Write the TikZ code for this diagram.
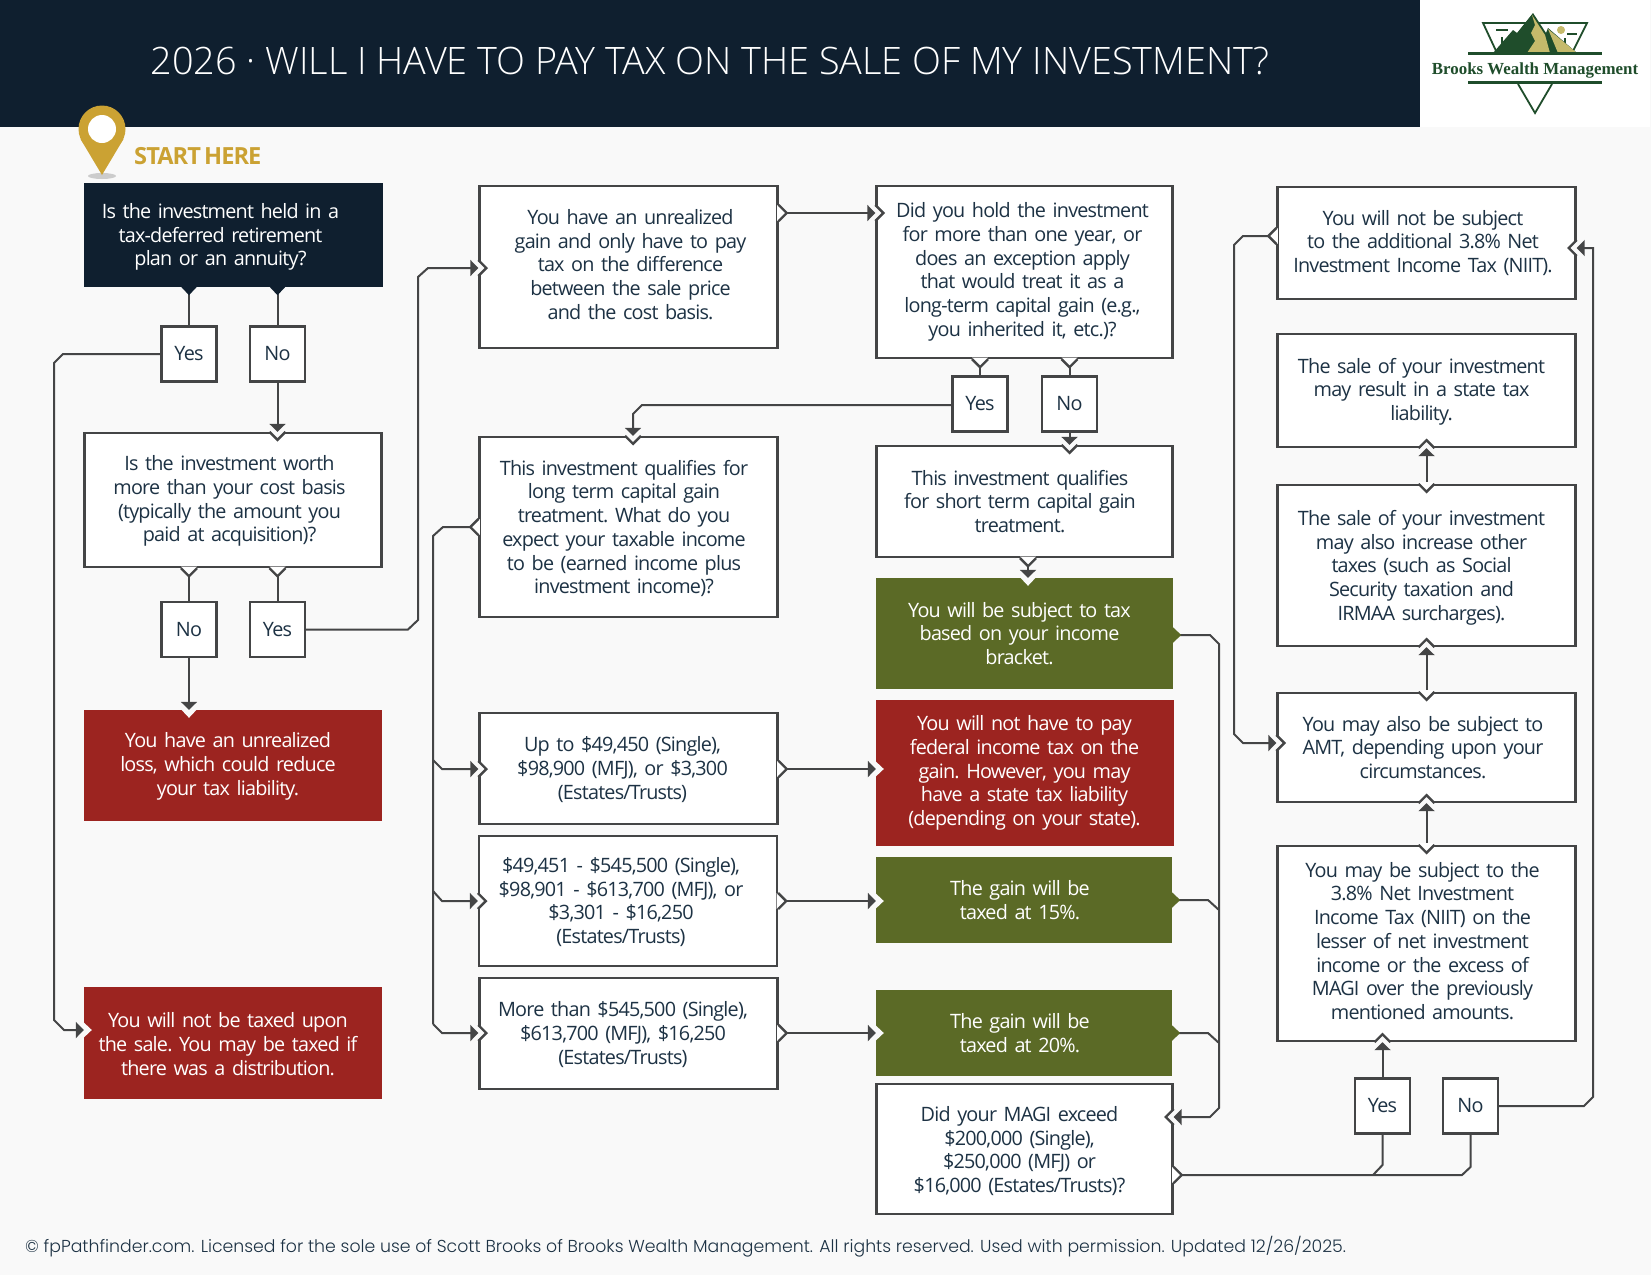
\documentclass[tikz,border=0pt]{standalone}
\usepackage{fontspec}
\setmainfont{Open Sans}[LetterSpace=-4, WordSpace=0.62]
\newfontfamily\titlefont{Open Sans Light}
\newfontfamily\footfont{Poppins Light}
\newfontfamily\logofont{Liberation Serif}
\usetikzlibrary{arrows.meta}

\definecolor{pagebg}{HTML}{F9F9F9}
\definecolor{navy}{HTML}{0F1F2F}
\definecolor{ink}{HTML}{1D3244}
\definecolor{wire}{HTML}{444546}
\definecolor{lossred}{HTML}{9C2420}
\definecolor{taxgreen}{HTML}{5B6A26}
\definecolor{pingold}{HTML}{CBA233}
\definecolor{logogreen}{HTML}{1F4D2B}
\definecolor{logotan}{HTML}{C5BA6B}

\newcommand{\bodysize}{\fontsize{19.8}{23.7}\selectfont\frenchspacing}

\tikzset{
    nudge/.style={execute at begin node={\centering\rightskip=#1 plus 1fil}},
    lift/.style={execute at end node={\par\vspace*{#1}}},
    flowbox/.style={rectangle, inner sep=0pt, text width=290pt, font=\bodysize, nudge=9pt},
    whitebox/.style={flowbox, draw=wire, line width=2.4pt, fill=white, text=ink},
    navybox/.style={flowbox, fill=navy, text=white},
    redbox/.style={flowbox, fill=lossred, text=white},
    greenbox/.style={flowbox, fill=taxgreen, text=white},
    tagbox/.style={rectangle, inner sep=0pt, draw=wire, line width=2.4pt, fill=white, text=ink, font=\bodysize, minimum width=55pt, minimum height=55pt},
    link/.style={draw=wire, line width=2pt},
    arrowlink/.style={link, -{Triangle[length=8pt,width=16pt]}},
    boxline/.style={draw=wire, line width=2.4pt},
}

% chevron in a box edge, with and without outline
\newcommand{\chevline}[3]{%
    \begin{scope}[shift={#1}, rotate=#2]
        \fill[#3] (-1.6,-8) -- (8,0) -- (-1.6,8) -- cycle;
        \draw[boxline] (0,-8) -- (8,0) -- (0,8);
    \end{scope}}
\newcommand{\chevfill}[3]{%
    \begin{scope}[shift={#1}, rotate=#2]
        \fill[#3] (-0.5,-8) -- (8,0) -- (-0.5,8) -- cycle;
    \end{scope}}

\begin{document}
\begin{tikzpicture}[x=1pt, y=-1pt]
    \useasboundingbox (0,0) rectangle (1651,1275);
    \fill[pagebg] (0,0) rectangle (1651,1275);
    \fill[navy] (0,0) rectangle (1420,127);
    \fill[white] (1420,0) rectangle (1650,127);
    \node[anchor=west, text=white, font=\titlefont\fontsize{37.8}{44}\selectfont] (title) at (147,61) {2026 · WILL I HAVE TO PAY TAX ON THE SALE OF MY INVESTMENT?};

    % logo
    \draw[logogreen, line width=1.8pt] (1497,53) -- (1483,23) -- (1587,23) -- (1572,53);
    \fill[logogreen] (1496,29) rectangle (1508,31);
    \fill[logogreen] (1567,33) rectangle (1577,35);
    \fill[logogreen] (1501,37) rectangle (1503,47);
    \fill[logogreen] (1564,38) rectangle (1566,47);
    \fill[logogreen] (1493,53) -- (1513,30) -- (1517,33) -- (1533,13) -- (1546,33) -- (1548,28) -- (1577,53) -- cycle;
    \fill[logotan] (1532,15) -- (1545,35) -- (1550,53) -- (1527,53) -- (1535,41) -- (1531,33) -- (1535,25) -- cycle;
    \fill[logotan] (1548,29) -- (1577,53) -- (1558,53) -- (1553,41) -- cycle;
    \fill[logotan] (1561,30) circle (4);
    \fill[logogreen] (1468,52) rectangle (1602,55);
    \fill[logogreen] (1468,81) rectangle (1602,84);
    \draw[logogreen, line width=1.8pt] (1518,84) -- (1535,113) -- (1552,84);
    \node[text=logogreen, font=\logofont\bfseries\fontsize{16.9}{17}\selectfont] (brand) at (1535,70) {Brooks Wealth Management};

    % start pin
    \fill[black!20] (102,176) ellipse (14 and 3);
    \fill[pingold] (102,129) circle (23.5);
    \fill[pingold] (102,175) -- (80.5,139) -- (123.5,139) -- cycle;
    \fill[white] (102,129) circle (14);
    \node[anchor=west, text=pingold, font=\bfseries\fontsize{23.6}{24}\selectfont, inner sep=0pt] (start) at (134,156.5) {START HERE};

    % first column
    \node[navybox, minimum width=299pt, minimum height=104pt, nudge=26pt, lift=-4pt] (qone) at (233.5,235) {Is the investment held in a\\tax-deferred retirement\\plan or an annuity?};
    \node[tagbox] (yesa) at (189,354) {Yes};
    \node[tagbox] (noa) at (277.5,354) {No};
    \node[whitebox, minimum width=297pt, minimum height=134pt, nudge=7pt, lift=-2pt] (qtwo) at (233,500) {Is the investment worth\\more than your cost basis\\(typically the amount you\\paid at acquisition)?};
    \node[tagbox] (nob) at (189,629.5) {No};
    \node[tagbox] (yesb) at (277.5,629.5) {Yes};
    \node[redbox, minimum width=298pt, minimum height=111pt, nudge=10pt, lift=-2pt] (loss) at (233,765.5) {You have an unrealized\\loss, which could reduce\\your tax liability.};
    \node[redbox, minimum width=298pt, minimum height=112pt, nudge=10pt, lift=-2pt] (notaxed) at (233,1043) {You will not be taxed upon\\the sale. You may be taxed if\\there was a distribution.};

    % second column
    \node[whitebox, minimum width=298pt, minimum height=162pt, nudge=-4pt, lift=5pt] (gain) at (628.5,267) {You have an unrealized\\gain and only have to pay\\tax on the difference\\between the sale price\\and the cost basis.};
    \node[whitebox, minimum width=298pt, minimum height=180pt, lift=-3pt] (longterm) at (628.5,527) {This investment qualifies for\\long term capital gain\\treatment. What do you\\expect your taxable income\\to be (earned income plus\\investment income)?};
    \node[whitebox, minimum width=298pt, minimum height=111pt, nudge=12pt, lift=-2pt] (lowband) at (628.5,768.5) {Up to \$49,450 (Single),\\\$98,900 (MFJ), or \$3,300\\(Estates/Trusts)};
    \node[whitebox, minimum width=298pt, minimum height=130pt, nudge=14pt, lift=-2pt] (midband) at (628,901) {\$49,451 - \$545,500 (Single),\\\$98,901 - \$613,700 (MFJ), or\\\$3,301 - \$16,250\\(Estates/Trusts)};
    \node[whitebox, minimum width=298pt, minimum height=111pt, nudge=11pt, lift=-2pt] (topband) at (628.5,1033.5) {More than \$545,500 (Single),\\\$613,700 (MFJ), \$16,250\\(Estates/Trusts)};

    % third column
    \node[whitebox, minimum width=296pt, minimum height=172pt, nudge=4pt] (hold) at (1024.5,272) {Did you hold the investment\\for more than one year, or\\does an exception apply\\that would treat it as a\\long-term capital gain (e.g.,\\you inherited it, etc.)?};
    \node[tagbox] (yesc) at (980,404) {Yes};
    \node[tagbox] (noc) at (1069.5,404) {No};
    \node[whitebox, minimum width=296pt, minimum height=111pt] (shortterm) at (1024.5,501.5) {This investment qualifies\\for short term capital gain\\treatment.};
    \node[greenbox, minimum width=297pt, minimum height=111pt, nudge=10pt] (bracket) at (1024.5,633.5) {You will be subject to tax\\based on your income\\bracket.};
    \node[redbox, minimum width=298pt, minimum height=146pt, nudge=1pt] (nofed) at (1025,773) {You will not have to pay\\federal income tax on the\\gain. However, you may\\have a state tax liability\\(depending on your state).};
    \node[greenbox, minimum width=296pt, minimum height=86pt, nudge=8pt] (fifteen) at (1024,900) {The gain will be\\taxed at 15\%.};
    \node[greenbox, minimum width=296pt, minimum height=86pt, nudge=8pt] (twenty) at (1024,1033) {The gain will be\\taxed at 20\%.};
    \node[whitebox, minimum width=296pt, minimum height=130pt, nudge=10pt, lift=-4pt] (magi) at (1024.5,1149) {Did your MAGI exceed\\\$200,000 (Single),\\\$250,000 (MFJ) or\\\$16,000 (Estates/Trusts)?};

    % fourth column
    \node[whitebox, minimum width=298pt, minimum height=112pt, nudge=7pt] (noniit) at (1426.5,243) {You will not be subject\\to the additional 3.8\% Net\\Investment Income Tax (NIIT).};
    \node[whitebox, minimum width=298pt, minimum height=113pt, nudge=10pt, lift=-2pt] (statetax) at (1426.5,390.5) {The sale of your investment\\may result in a state tax\\liability.};
    \node[whitebox, minimum width=298pt, minimum height=161pt, nudge=10pt, lift=-4pt] (othertax) at (1426.5,565.5) {The sale of your investment\\may also increase other\\taxes (such as Social\\Security taxation and\\IRMAA surcharges).};
    \node[whitebox, minimum width=298pt, minimum height=109pt, nudge=7pt] (amt) at (1426.5,747.5) {You may also be subject to\\AMT, depending upon your\\circumstances.};
    \node[whitebox, minimum width=298pt, minimum height=195pt, nudge=8pt, lift=5pt] (niit) at (1426.5,943.5) {You may be subject to the\\3.8\% Net Investment\\Income Tax (NIIT) on the\\lesser of net investment\\income or the excess of\\MAGI over the previously\\mentioned amounts.};
    \node[tagbox] (yesd) at (1382.5,1106) {Yes};
    \node[tagbox] (nod) at (1470.5,1106) {No};

    % cuts where arrows come in
    \chevline{(qtwo.north -| noa)}{-90}{pagebg}
    \chevfill{(loss.north -| nob)}{-90}{pagebg}
    \chevfill{(notaxed.west |- 0,1030)}{0}{pagebg}
    \chevline{(gain.west |- 0,268)}{0}{pagebg}
    \chevline{(hold.west |- 0,213)}{0}{pagebg}
    \chevline{(longterm.north -| 633,0)}{-90}{pagebg}
    \chevline{(shortterm.north -| noc)}{-90}{pagebg}
    \chevfill{(bracket.north -| 1028,0)}{-90}{pagebg}
    \chevline{(lowband.west |- 0,769)}{0}{pagebg}
    \chevline{(midband.west |- 0,901)}{0}{pagebg}
    \chevline{(topband.west |- 0,1033)}{0}{pagebg}
    \chevfill{(nofed.west |- 0,769)}{0}{pagebg}
    \chevfill{(fifteen.west |- 0,901)}{0}{pagebg}
    \chevfill{(twenty.west |- 0,1033)}{0}{pagebg}
    \chevline{(magi.east |- 0,1117)}{180}{pagebg}
    \chevline{(noniit.east |- 0,248)}{180}{pagebg}
    \chevline{(statetax.south)}{90}{pagebg}
    \chevline{(othertax.south)}{90}{pagebg}
    \chevline{(amt.south)}{90}{pagebg}
    \chevline{(niit.south -| yesd)}{90}{pagebg}
    \chevline{(amt.west |- 0,743)}{0}{pagebg}

    % connectors
    \draw[link] (qone.south -| yesa) -- (yesa.north);
    \draw[link] (qone.south -| noa) -- (noa.north);
    \draw[arrowlink] (yesa.west) -- (63,354) -- (54,363) -- (54,1020) -- (64,1030) -- (notaxed.west |- 0,1030);
    \draw[arrowlink] (noa.south) -- (qtwo.north -| noa);
    \draw[link] (qtwo.south -| nob) -- (nob.north);
    \draw[link] (qtwo.south -| yesb) -- (yesb.north);
    \draw[arrowlink] (nob.south) -- (loss.north -| nob);
    \draw[arrowlink] (yesb.east) -- (408,629.5) -- (418,620) -- (418,277) -- (428,268) -- (gain.west |- 0,268);
    \draw[arrowlink, line width=2.4pt] (gain.east |- 0,213) -- (hold.west |- 0,213);
    \draw[link] (hold.south -| yesc) -- (yesc.north);
    \draw[link] (hold.south -| noc) -- (noc.north);
    \draw[arrowlink] (yesc.west |- 0,405) -- (642,405) -- (633,414) -- (longterm.north -| 633,0);
    \draw[arrowlink] (noc.south) -- (shortterm.north -| noc);
    \draw[arrowlink] (shortterm.south -| 1028,0) -- (bracket.north -| 1028,0);
    \draw[link] (longterm.west) -- (443,527) -- (433,536) -- (433,1024);
    \draw[arrowlink] (433,760) -- (442,769) -- (lowband.west |- 0,769);
    \draw[arrowlink] (433,891) -- (442,901) -- (midband.west |- 0,901);
    \draw[arrowlink] (433,1024) -- (442,1033) -- (topband.west |- 0,1033);
    \draw[arrowlink] (lowband.east |- 0,769) -- (nofed.west |- 0,769);
    \draw[arrowlink] (midband.east |- 0,901) -- (fifteen.west |- 0,901);
    \draw[arrowlink] (topband.east |- 0,1033) -- (twenty.west |- 0,1033);
    \draw[arrowlink] (bracket.east |- 0,635) -- (1210,635) -- (1219,644) -- (1219,1108) -- (1210,1117) -- (magi.east |- 0,1117);
    \draw[link] (fifteen.east) -- (1208,900) -- (1219,910);
    \draw[link] (twenty.east) -- (1208,1033) -- (1219,1043);
    \draw[link] (magi.east |- 0,1175) -- (1462,1175) -- (1470.5,1167) -- (nod.south);
    \draw[link] (1373,1175) -- (1382.5,1165) -- (yesd.south);
    \draw[arrowlink] (yesd.north) -- (niit.south -| yesd);
    \draw[arrowlink] (nod.east) -- (1584,1106) -- (1593,1097) -- (1593,248) -- (noniit.east |- 0,248);
    \draw[arrowlink] (niit.north) -- (amt.south);
    \draw[arrowlink] (amt.north) -- (othertax.south);
    \draw[arrowlink] (othertax.north) -- (statetax.south);
    \draw[arrowlink] (noniit.west |- 0,236) -- (1243,236) -- (1234,245) -- (1234,734) -- (1243,743) -- (amt.west |- 0,743);

    % points where lines leave a box
    \chevfill{(qone.south -| yesa)}{-90}{navy}
    \chevfill{(qone.south -| noa)}{-90}{navy}
    \chevline{(qtwo.south -| nob)}{-90}{white}
    \chevline{(qtwo.south -| yesb)}{-90}{white}
    \chevline{(gain.east |- 0,213)}{0}{white}
    \chevline{(longterm.west)}{180}{white}
    \chevline{(hold.south -| yesc)}{-90}{white}
    \chevline{(hold.south -| noc)}{-90}{white}
    \chevline{(shortterm.south -| 1028,0)}{-90}{white}
    \chevfill{(bracket.east |- 0,635)}{0}{taxgreen}
    \chevline{(lowband.east |- 0,769)}{0}{white}
    \chevline{(midband.east |- 0,901)}{0}{white}
    \chevline{(topband.east |- 0,1033)}{0}{white}
    \chevfill{(fifteen.east)}{0}{taxgreen}
    \chevfill{(twenty.east)}{0}{taxgreen}
    \chevline{(magi.east |- 0,1175)}{0}{white}
    \chevline{(noniit.west |- 0,236)}{180}{white}
    \chevline{(othertax.north)}{-90}{white}
    \chevline{(amt.north)}{-90}{white}
    \chevline{(niit.north)}{-90}{white}

    \node[anchor=west, inner sep=0pt, text=ink, font=\footfont\fontsize{17.3}{20}\selectfont] (footer) at (25,1247) {© fpPathfinder.com. Licensed for the sole use of Scott Brooks of Brooks Wealth Management. All rights reserved. Used with permission. Updated 12/26/2025.};
\end{tikzpicture}
\end{document}
